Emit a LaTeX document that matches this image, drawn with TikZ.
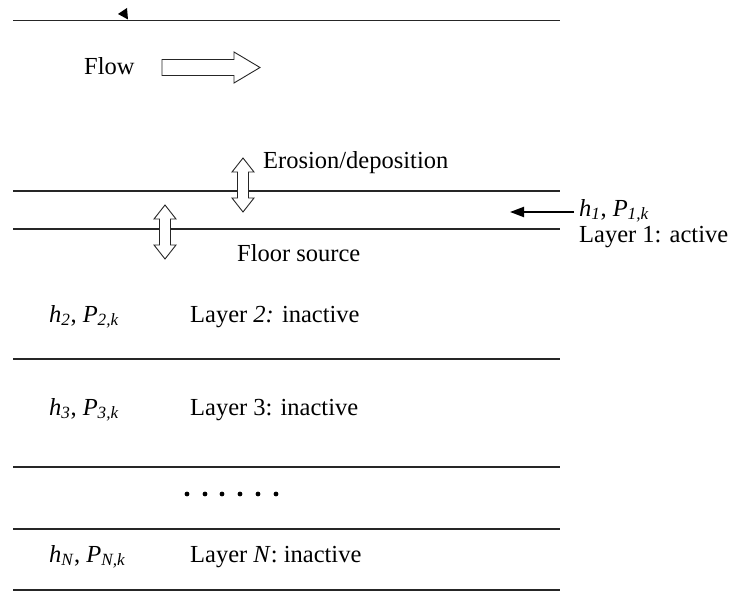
\documentclass[tikz,border=0pt]{standalone}
\usepackage{fontspec}
\setmainfont{Liberation Serif}
\usetikzlibrary{arrows.meta}

\tikzset{
  layerline/.style={line width=1.2pt, draw=black!85},
  blockarrow/.style={line width=0.9pt, draw=black!85, fill=white, line join=miter},
  label/.style={anchor=base west, inner sep=0pt, font=\fontsize{24.5}{28}\selectfont},
  pics/updown/.style={code={
    \draw[blockarrow] (0,0) -- (11,14) -- (5.5,14) -- (5.5,40) -- (11,40)
      -- (0,54) -- (-11,40) -- (-5.5,40) -- (-5.5,14) -- (-11,14) -- cycle;
  }}
}

\newcommand{\sub}[1]{\textsubscript{\textit{#1}}}

\begin{document}
\begin{tikzpicture}[x=1pt, y=-1pt]
  \useasboundingbox (0,0) rectangle (733,591);

  % water surface with its marker
  \draw[layerline] (13,20.5) -- (560,20.5);
  \fill[black] (118,14) -- (127,8) -- (128,19.5) -- cycle;

  % flow direction
  \node[label] (flow) at (84,75) {Flow};
  \draw[blockarrow] (162,59.5) -- (234,59.5) -- (234,52) -- (260,67.5) -- (234,83)
    -- (234,75.5) -- (162,75.5) -- cycle;

  % bed layers
  \draw[layerline] (13,191) -- (560,191);
  \draw[layerline] (13,229) -- (560,229);
  \draw[layerline] (13,359) -- (560,359);
  \draw[layerline] (13,467) -- (560,467);
  \draw[layerline] (13,529) -- (560,529);
  \draw[layerline] (13,590) -- (560,590);

  % exchange fluxes
  \pic at (243,158) {updown};
  \pic at (165,205) {updown};
  \node[label] (erosion) at (263,168.5) {Erosion/deposition};
  \node[label] (floor) at (237,261) {Floor source};

  % active layer
  \node[label] (h1) at (579,216) {\textit{h}\sub{1}, \textit{P}\sub{1,k}};
  \node[label] (l1) at (579,242) {Layer 1: active};
  \coordinate (pstart) at (574,212);
  \coordinate (pend) at (510,212);
  \draw[line width=2pt, -{Triangle[length=14pt,width=10pt]}] (pstart) -- (pend);

  % inactive layers
  \node[label] (h2) at (49,322) {\textit{h}\sub{2}, \textit{P}\sub{2,k}};
  \node[label] (l2) at (190,322) {Layer \textit{2:} inactive};
  \node[label] (h3) at (49,415) {\textit{h}\sub{3}, \textit{P}\sub{3,k}};
  \node[label] (l3) at (190,415) {Layer 3: inactive};
  \foreach \dx in {187,205,222,240,258,276}
    \fill (\dx,494) circle (2.4);
  \node[label] (hN) at (49,562) {\textit{h}\sub{N}, \textit{P}\sub{N,k}};
  \node[label] (lN) at (190,562) {Layer \textit{N}: inactive};
\end{tikzpicture}
\end{document}
